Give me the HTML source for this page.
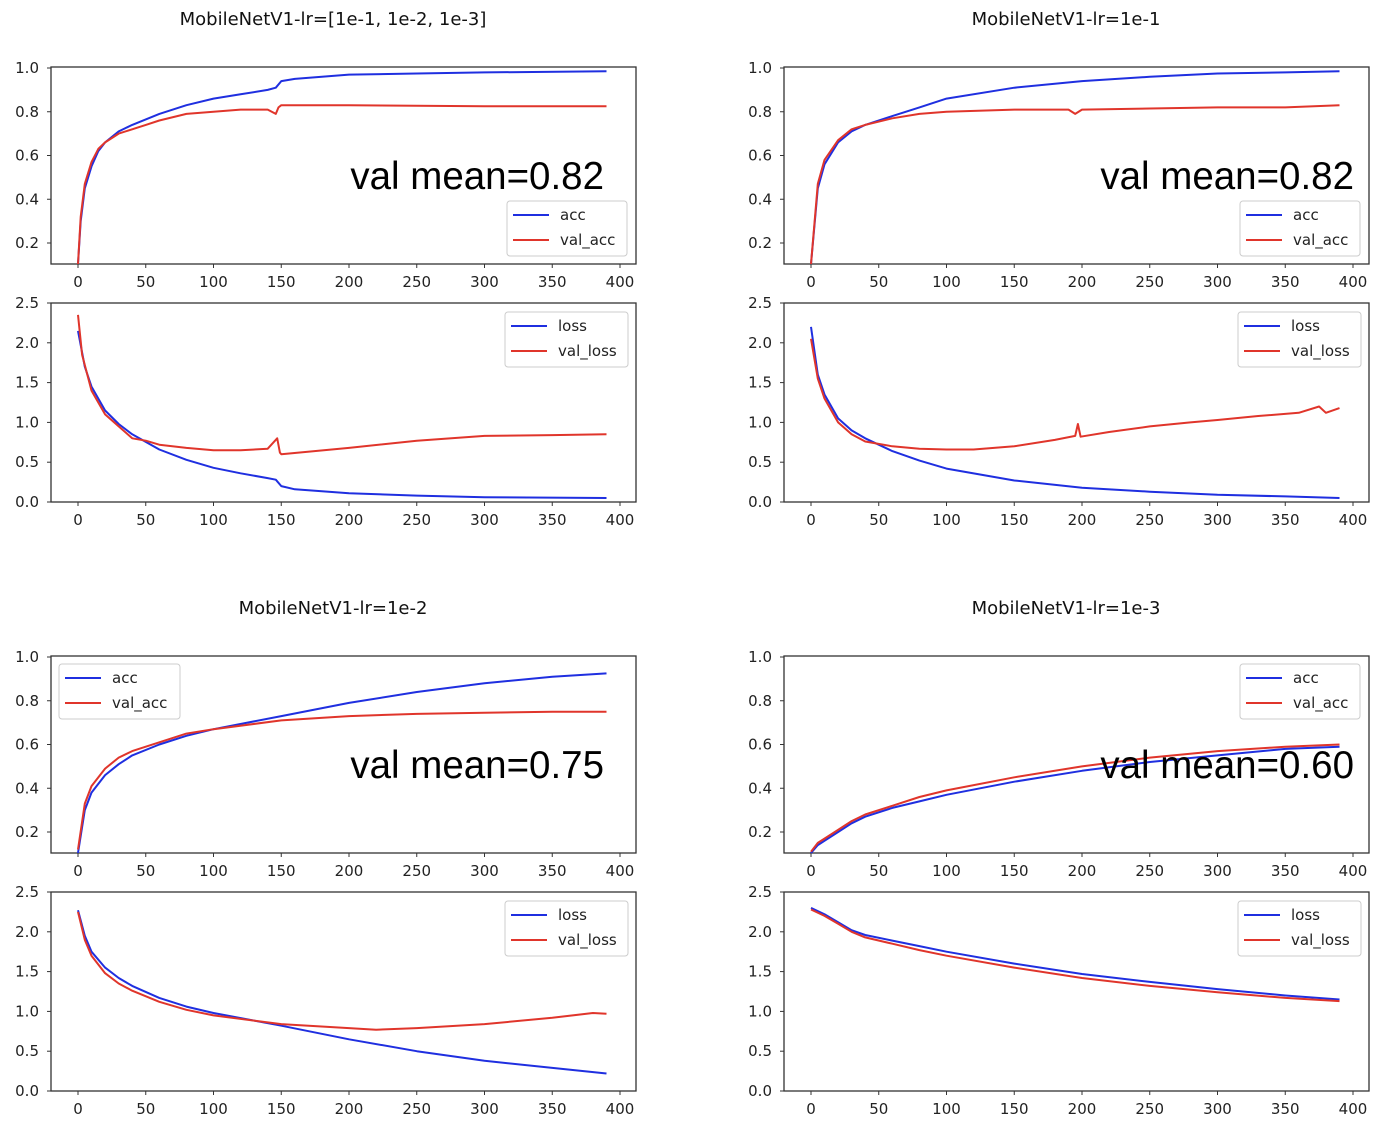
<!DOCTYPE html>
<html><head><meta charset="utf-8"><style>
body{margin:0;background:#fff;}
svg{display:block;font-family:"DejaVu Sans","Liberation Sans",sans-serif;}
</style></head><body>
<svg id="fig" width="1390" height="1138" xmlns="http://www.w3.org/2000/svg"></svg>
<script>
// ---- data (epochs and values) ----
const xTicks = [0,50,100,150,200,250,300,350,400];
const accTicks = [0.2,0.4,0.6,0.8,1.0];
const lossTicks = [0.0,0.5,1.0,1.5,2.0,2.5];
const titles = ["MobileNetV1-lr=[1e-1, 1e-2, 1e-3]","MobileNetV1-lr=1e-1","MobileNetV1-lr=1e-2","MobileNetV1-lr=1e-3"];
const valMeans = ["val mean=0.82","val mean=0.82","val mean=0.75","val mean=0.60"];

const p1AccE = [0,2,5,10,15,20,30,40,60,80,100,120,140,146,150,160,180,200,250,300,390];
const p1Acc  = [0.1,0.3,0.45,0.55,0.62,0.66,0.71,0.74,0.79,0.83,0.86,0.88,0.90,0.91,0.94,0.95,0.96,0.97,0.975,0.98,0.985];
const p1ValE = [0,2,5,10,15,20,30,40,50,60,80,100,120,140,146,148,150,200,300,390];
const p1Val  = [0.1,0.32,0.47,0.57,0.63,0.66,0.70,0.72,0.74,0.76,0.79,0.80,0.81,0.81,0.79,0.82,0.83,0.83,0.825,0.825];
const p1LossE = [0,5,10,20,30,40,60,80,100,120,140,146,150,160,200,250,300,390];
const p1Loss  = [2.15,1.7,1.45,1.15,0.98,0.85,0.66,0.53,0.43,0.36,0.30,0.28,0.2,0.16,0.11,0.08,0.06,0.05];
const p1VLossE = [0,3,10,20,30,40,50,60,80,100,120,140,147,149,150,200,250,300,350,390];
const p1VLoss  = [2.35,1.85,1.4,1.1,0.95,0.8,0.77,0.72,0.68,0.65,0.65,0.67,0.8,0.62,0.6,0.68,0.77,0.83,0.84,0.85];

const p2AccE = [0,5,10,20,30,40,60,80,100,150,200,250,300,350,390];
const p2Acc  = [0.1,0.45,0.56,0.66,0.71,0.74,0.78,0.82,0.86,0.91,0.94,0.96,0.975,0.98,0.985];
const p2ValE = [0,5,10,20,30,40,60,80,100,150,190,195,200,250,300,350,390];
const p2Val  = [0.1,0.47,0.58,0.67,0.72,0.74,0.77,0.79,0.80,0.81,0.81,0.79,0.81,0.815,0.82,0.82,0.83];
const p2LossE = [0,5,10,20,30,40,60,80,100,150,200,250,300,350,390];
const p2Loss  = [2.2,1.6,1.35,1.05,0.9,0.8,0.64,0.52,0.42,0.27,0.18,0.13,0.09,0.07,0.05];
const p2VLossE = [0,5,10,20,30,40,60,80,100,120,150,180,195,197,199,220,250,280,300,330,360,375,380,390];
const p2VLoss  = [2.05,1.55,1.3,1.0,0.85,0.76,0.7,0.67,0.66,0.66,0.7,0.78,0.83,0.98,0.82,0.88,0.95,1.0,1.03,1.08,1.12,1.2,1.12,1.18];

const p3AccE = [0,5,10,20,30,40,60,80,100,150,200,250,300,350,390];
const p3Acc  = [0.1,0.3,0.38,0.46,0.51,0.55,0.6,0.64,0.67,0.73,0.79,0.84,0.88,0.91,0.925];
const p3ValE = [0,5,10,20,30,40,60,80,100,150,200,250,300,350,390];
const p3Val  = [0.12,0.33,0.41,0.49,0.54,0.57,0.61,0.65,0.67,0.71,0.73,0.74,0.745,0.75,0.75];
const p3LossE = [0,5,10,20,30,40,60,80,100,150,200,250,300,350,390];
const p3Loss  = [2.27,1.95,1.75,1.55,1.42,1.32,1.17,1.06,0.98,0.82,0.65,0.5,0.38,0.29,0.22];
const p3VLossE = [0,5,10,20,30,40,60,80,100,150,200,220,250,300,350,380,390];
const p3VLoss  = [2.25,1.9,1.7,1.48,1.35,1.26,1.12,1.02,0.95,0.84,0.79,0.77,0.79,0.84,0.92,0.98,0.97];

const p4AccE = [0,5,10,20,30,40,60,80,100,150,200,250,300,350,390];
const p4Acc  = [0.1,0.14,0.16,0.2,0.24,0.27,0.31,0.34,0.37,0.43,0.48,0.52,0.55,0.58,0.59];
const p4ValE = [0,5,10,20,30,40,60,80,100,150,200,250,300,350,390];
const p4Val  = [0.11,0.15,0.17,0.21,0.25,0.28,0.32,0.36,0.39,0.45,0.5,0.54,0.57,0.59,0.6];
const p4LossE = [0,10,20,30,40,60,80,100,150,200,250,300,350,390];
const p4Loss  = [2.3,2.22,2.12,2.02,1.96,1.89,1.82,1.75,1.6,1.47,1.37,1.28,1.2,1.15];
const p4VLossE = [0,10,20,30,40,60,80,100,150,200,250,300,350,390];
const p4VLoss  = [2.28,2.2,2.1,2.0,1.93,1.85,1.77,1.7,1.55,1.42,1.32,1.24,1.17,1.13];

const panels = [
 {acc:[p1AccE,p1Acc],val:[p1ValE,p1Val],loss:[p1LossE,p1Loss],vloss:[p1VLossE,p1VLoss],accLeg:"br"},
 {acc:[p2AccE,p2Acc],val:[p2ValE,p2Val],loss:[p2LossE,p2Loss],vloss:[p2VLossE,p2VLoss],accLeg:"br"},
 {acc:[p3AccE,p3Acc],val:[p3ValE,p3Val],loss:[p3LossE,p3Loss],vloss:[p3VLossE,p3VLoss],accLeg:"tl"},
 {acc:[p4AccE,p4Acc],val:[p4ValE,p4Val],loss:[p4LossE,p4Loss],vloss:[p4VLossE,p4VLoss],accLeg:"tr"}
];

const NS="http://www.w3.org/2000/svg";
const svg=document.getElementById('fig');
function mk(tag,attrs,parent,name,inter){
  const e=document.createElementNS(NS,tag);
  for(const k in attrs)e.setAttribute(k,attrs[k]);
  
  
  (parent||svg).appendChild(e);return e;
}
const BLUE="#1f2fe0", RED="#e0352b";
function xS(ox){return v=>ox+78+v*(542/400);}
function accY(oy){return v=>oy+68+(1.0-v)*218.75;}
function lossY(oy){return v=>oy+303+(2.5-v)*79.6;}

function axes(g,ox,oy,top,bot,yTicks,yS){
  const xs=xS(ox);
  mk('rect',{x:ox+51,y:top,width:585,height:bot-top,fill:'none',stroke:'#333','stroke-width':1.3},g,'axes-frame');
  xTicks.forEach(t=>{
    const x=xs(t);
    mk('line',{x1:x,y1:bot,x2:x,y2:bot+4,stroke:'#333'},g,'x-tick');
    const tx=mk('text',{x:x,y:bot+23,'font-size':15,'text-anchor':'middle',fill:'#222'},g,'x-tick-label');tx.textContent=t;
  });
  yTicks.forEach(t=>{
    const y=yS(t);
    mk('line',{x1:ox+51,y1:y,x2:ox+47,y2:y,stroke:'#333'},g,'y-tick');
    const tx=mk('text',{x:ox+39,y:y+5,'font-size':15,'text-anchor':'end',fill:'#222'},g,'y-tick-label');tx.textContent=t.toFixed(1);
  });
}
function line(g,E,V,xs,ys,col,name,clipTop,clipBot){
  const pts=E.map((e,i)=>xs(e).toFixed(1)+','+Math.max(clipTop,Math.min(clipBot,ys(V[i]))).toFixed(1)).join(' ');
  mk('polyline',{points:pts,fill:'none',stroke:col,'stroke-width':2,'stroke-linejoin':'round'},g,name);
}
function legend(g,x,y,w,a,b){
  mk('rect',{x:x,y:y,width:w,height:55,rx:3,fill:'#fff',stroke:'#ccc'},g,'legend-box');
  mk('line',{x1:x+6,y1:y+14,x2:x+42,y2:y+14,stroke:BLUE,'stroke-width':2},g,'legend-swatch-'+a);
  const t1=mk('text',{x:x+53,y:y+19,'font-size':15,fill:'#222'},g,'legend-label-'+a);t1.textContent=a;
  mk('line',{x1:x+6,y1:y+39,x2:x+42,y2:y+39,stroke:RED,'stroke-width':2},g,'legend-swatch-'+b);
  const t2=mk('text',{x:x+53,y:y+44,'font-size':15,fill:'#222'},g,'legend-label-'+b);t2.textContent=b;
}
panels.forEach((p,i)=>{
  const ox=(i%2)*733, oy=Math.floor(i/2)*589;
  const g=mk('g',{},svg,'panel-'+(i+1));
  const tt=mk('text',{x:ox+333,y:oy+25,'font-size':18,'text-anchor':'middle',fill:'#111'},g,'panel-title');tt.textContent=titles[i];
  const xs=xS(ox), ay=accY(oy), ly=lossY(oy);
  const ga=mk('g',{},g,'accuracy-subplot');
  axes(ga,ox,oy,oy+67,oy+264,accTicks,ay);
  line(ga,p.acc[0],p.acc[1],xs,ay,BLUE,'acc-line',oy+67,oy+264);
  line(ga,p.val[0],p.val[1],xs,ay,RED,'val-acc-line',oy+67,oy+264);
  const vx = (i%2===0) ? ox+604 : ox+621;
  const vm=mk('text',{x:vx,y:oy+189,'font-size':38.5,'text-anchor':'end',fill:'#000','font-family':'Liberation Sans, sans-serif'},ga,'val-mean-annotation');vm.textContent=valMeans[i];
  if(p.accLeg==='br')legend(ga,ox+507,oy+201,120,'acc','val_acc');
  else if(p.accLeg==='tl')legend(ga,ox+59,oy+75,121,'acc','val_acc');
  else legend(ga,ox+507,oy+75,120,'acc','val_acc');
  const gl=mk('g',{},g,'loss-subplot');
  axes(gl,ox,oy,oy+303,oy+502,lossTicks,ly);
  line(gl,p.loss[0],p.loss[1],xs,ly,BLUE,'loss-line',oy+303,oy+502);
  line(gl,p.vloss[0],p.vloss[1],xs,ly,RED,'val-loss-line',oy+303,oy+502);
  legend(gl,ox+505,oy+312,123,'loss','val_loss');
});
</script>
</body></html>
